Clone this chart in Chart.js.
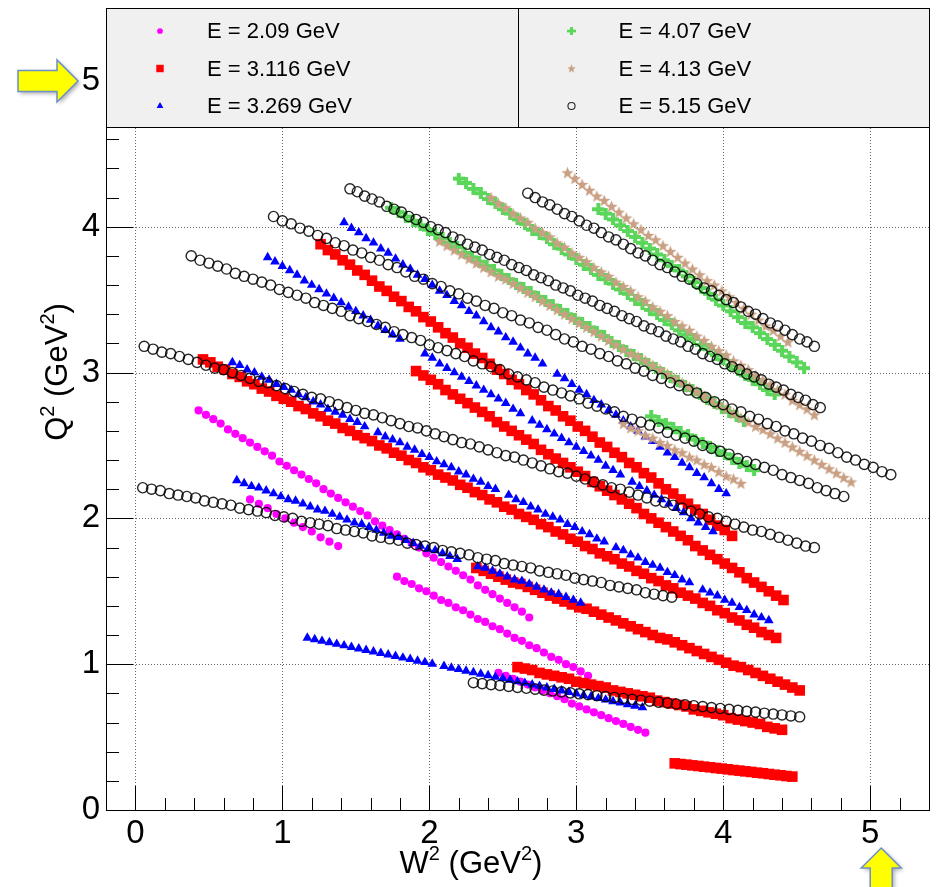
<!DOCTYPE html>
<html>
<head>
<meta charset="utf-8">
<script src="https://cdn.jsdelivr.net/npm/chart.js@4.4.0/dist/chart.umd.min.js"></script>
<style>
html, body { margin: 0; padding: 0; background: #fff; }
#wrap { position: relative; width: 938px; height: 887px; }
</style>
</head>
<body>
<div id="wrap"><canvas id="kin" width="938" height="887"></canvas></div>
<script>
// beam energies (legend labels)
const beamEnergies = ['2.09', '3.116', '3.269', '4.07', '4.13', '5.15'];
const xTickValues = [0, 1, 2, 3, 4, 5];
const yTickValues = [0, 1, 2, 3, 4, 5];

// E = 2.09 GeV : W2 / Q2, one line per setting
const e209W2 = [
  0.43,0.48,0.53,0.58,0.63,0.68,0.73,0.78,0.83,0.88,0.93,0.98,1.03,1.08,1.13,1.18,1.23,1.28,1.33,1.38,1.43,1.48,1.53,1.58,1.63,1.68,1.73,1.78,1.83,1.88,1.93,1.98,2.03,2.08,2.13,2.18,2.23,2.28,2.33,2.38,2.43,2.48,2.53,2.58,2.63,2.68,
  0.78,0.84,0.90,0.96,1.02,1.08,1.14,1.20,1.26,1.32,1.38,
  1.78,1.83,1.88,1.93,1.98,2.03,2.08,2.13,2.18,2.23,2.28,2.33,2.38,2.43,2.48,2.53,2.58,2.63,2.68,2.73,2.78,2.83,2.88,2.93,2.98,3.03,3.08,
  2.47,2.52,2.57,2.62,2.67,2.72,2.77,2.82,2.87,2.92,2.97,3.02,3.07,3.12,3.17,3.22,3.27,3.32,3.37,3.42,3.47
];
const e209Q2 = [
  2.74,2.71,2.68,2.65,2.61,2.58,2.55,2.52,2.49,2.46,2.43,2.39,2.36,2.33,2.30,2.27,2.24,2.20,2.17,2.14,2.11,2.08,2.05,2.02,1.98,1.95,1.92,1.89,1.86,1.83,1.80,1.76,1.73,1.70,1.67,1.64,1.61,1.58,1.54,1.51,1.48,1.45,1.42,1.39,1.36,1.32,
  2.13,2.10,2.07,2.03,2.00,1.97,1.94,1.91,1.87,1.84,1.81,
  1.60,1.57,1.55,1.52,1.50,1.47,1.44,1.42,1.39,1.37,1.34,1.31,1.29,1.26,1.24,1.21,1.18,1.16,1.13,1.11,1.08,1.05,1.03,1.00,0.98,0.95,0.92,
  0.94,0.92,0.90,0.88,0.86,0.84,0.82,0.80,0.78,0.76,0.73,0.71,0.69,0.67,0.65,0.63,0.61,0.59,0.57,0.55,0.53
];

// E = 3.116 GeV
const e3116W2 = [
  3.67,3.71,3.75,3.79,3.83,3.87,3.91,3.95,3.99,4.03,4.07,4.11,4.15,4.19,4.23,4.27,4.31,4.35,4.39,4.43,4.47,
  2.60,2.65,2.70,2.75,2.80,2.85,2.90,2.95,3.00,3.05,3.10,3.15,3.20,3.25,3.30,3.35,3.40,3.45,3.50,3.55,3.60,3.65,3.70,3.75,3.80,3.85,3.90,3.95,4.00,4.05,4.10,4.15,4.20,4.25,4.30,4.35,4.40,
  2.32,2.37,2.42,2.47,2.52,2.57,2.62,2.67,2.72,2.77,2.82,2.87,2.92,2.97,3.02,3.07,3.12,3.17,3.22,3.27,3.32,3.37,3.42,3.47,3.52,3.57,3.62,3.67,3.72,3.77,3.82,3.87,3.92,3.97,4.02,4.07,4.12,4.17,4.22,4.27,4.32,4.37,4.42,4.47,4.52,
  0.46,0.51,0.56,0.61,0.66,0.71,0.76,0.81,0.86,0.91,0.96,1.01,1.06,1.11,1.16,1.21,1.26,1.31,1.36,1.41,1.46,1.51,1.56,1.61,1.66,1.71,1.76,1.81,1.86,1.91,1.96,2.01,2.06,2.11,2.16,2.21,2.26,2.31,2.36,2.41,2.46,2.51,2.56,2.61,2.66,2.71,2.76,2.81,2.86,2.91,2.96,3.01,3.06,3.11,3.16,3.21,3.26,3.31,3.36,3.41,3.46,3.51,3.56,3.61,3.66,3.71,3.76,3.81,3.86,3.91,3.96,4.01,4.06,4.11,4.16,4.21,4.26,4.31,4.36,
  1.91,1.96,2.01,2.06,2.11,2.16,2.21,2.26,2.31,2.36,2.41,2.46,2.51,2.56,2.61,2.66,2.71,2.76,2.81,2.86,2.91,2.96,3.01,3.06,3.11,3.16,3.21,3.26,3.31,3.36,3.41,3.46,3.51,3.56,3.61,3.66,3.71,3.76,3.81,3.86,3.91,3.96,4.01,4.06,4.11,4.16,4.21,4.26,4.31,4.36,4.41,
  1.26,1.31,1.36,1.41,1.46,1.51,1.56,1.61,1.66,1.71,1.76,1.81,1.86,1.91,1.96,2.01,2.06,2.11,2.16,2.21,2.26,2.31,2.36,2.41,2.46,2.51,2.56,2.61,2.66,2.71,2.76,2.81,2.86,2.91,2.96,3.01,3.06,3.11,3.16,3.21,3.26,3.31,3.36,3.41,3.46,3.51,3.56,3.61,3.66,3.71,3.76,3.81,3.86,3.91,3.96,4.01,4.06
];
const e3116Q2 = [
  0.320,0.315,0.311,0.306,0.302,0.297,0.293,0.288,0.284,0.279,0.274,0.270,0.265,0.261,0.256,0.252,0.247,0.242,0.238,0.233,0.229,
  0.98,0.97,0.96,0.94,0.93,0.92,0.91,0.90,0.88,0.87,0.86,0.85,0.84,0.82,0.81,0.80,0.79,0.78,0.77,0.75,0.74,0.73,0.72,0.71,0.69,0.68,0.67,0.66,0.65,0.63,0.62,0.61,0.60,0.59,0.57,0.56,0.55,
  1.66,1.64,1.62,1.60,1.58,1.56,1.55,1.53,1.51,1.49,1.47,1.45,1.43,1.41,1.39,1.38,1.36,1.34,1.32,1.30,1.28,1.26,1.24,1.22,1.20,1.18,1.17,1.15,1.13,1.11,1.09,1.07,1.05,1.03,1.01,0.99,0.98,0.96,0.94,0.92,0.90,0.88,0.86,0.84,0.82,
  3.09,3.07,3.04,3.02,2.99,2.97,2.94,2.92,2.89,2.87,2.84,2.82,2.80,2.77,2.75,2.72,2.70,2.67,2.65,2.62,2.60,2.57,2.55,2.53,2.50,2.48,2.45,2.43,2.40,2.38,2.35,2.33,2.30,2.28,2.26,2.23,2.21,2.18,2.16,2.13,2.11,2.08,2.06,2.03,2.01,1.99,1.96,1.94,1.91,1.89,1.86,1.84,1.81,1.79,1.76,1.74,1.72,1.69,1.67,1.64,1.62,1.59,1.57,1.54,1.52,1.49,1.47,1.45,1.42,1.40,1.37,1.35,1.32,1.30,1.27,1.25,1.22,1.20,1.18,
  3.01,2.98,2.95,2.92,2.88,2.85,2.82,2.79,2.76,2.73,2.70,2.66,2.63,2.60,2.57,2.54,2.51,2.47,2.44,2.41,2.38,2.35,2.32,2.29,2.25,2.22,2.19,2.16,2.13,2.10,2.07,2.03,2.00,1.97,1.94,1.91,1.88,1.85,1.81,1.78,1.75,1.72,1.69,1.66,1.63,1.59,1.56,1.53,1.50,1.47,1.44,
  3.88,3.84,3.81,3.77,3.74,3.70,3.67,3.63,3.59,3.56,3.52,3.49,3.45,3.42,3.38,3.35,3.31,3.27,3.24,3.20,3.17,3.13,3.10,3.06,3.02,2.99,2.95,2.92,2.88,2.85,2.81,2.77,2.74,2.70,2.67,2.63,2.60,2.56,2.52,2.49,2.45,2.42,2.38,2.35,2.31,2.28,2.24,2.20,2.17,2.13,2.10,2.06,2.03,1.99,1.95,1.92,1.88
];

// E = 3.269 GeV (gaps between spectrometer settings)
const e3269W2 = [
  0.90,0.95,1.00,1.05,1.10,1.15,1.20,1.25,1.30,1.35,1.40,1.45,1.50,1.55,1.60,1.65,1.70,1.75,1.80,
  1.97,2.02,2.07,2.12,2.17,2.22,2.27,2.32,2.37,2.42,2.47,2.52,2.57,2.62,
  2.70,2.75,2.80,2.85,2.90,2.95,3.00,3.05,3.10,3.15,3.20,3.25,3.30,
  3.38,3.43,3.48,3.53,3.58,3.63,3.68,3.73,3.78,3.83,3.88,3.93,
  1.42,1.47,1.52,1.57,1.62,1.67,1.72,1.77,1.82,1.87,1.92,1.97,2.02,2.07,2.12,2.17,2.22,2.27,2.32,2.37,2.42,2.47,2.52,2.57,2.62,2.67,2.72,2.77,
  2.87,2.92,2.97,3.02,3.07,3.12,3.17,3.22,3.27,3.32,3.37,3.42,3.47,3.52,3.57,3.62,3.67,3.72,3.77,3.82,3.87,3.92,3.97,4.02,
  0.66,0.71,0.76,0.81,0.86,0.91,0.96,1.01,1.06,1.11,1.16,1.21,1.26,1.31,1.36,1.41,1.46,1.51,1.56,
  1.65,1.70,1.75,1.80,1.85,1.90,1.95,2.00,2.05,2.10,2.15,2.20,2.25,2.30,2.35,2.40,2.45,
  2.54,2.59,2.64,2.69,2.74,2.79,2.84,2.89,2.94,2.99,3.04,3.09,3.14,3.19,
  3.27,3.32,3.37,3.42,3.47,3.52,3.57,3.62,3.67,3.72,3.77,
  3.86,3.91,3.96,4.01,4.06,4.11,4.16,4.21,4.26,4.31,
  0.69,0.74,0.79,0.84,0.89,0.94,0.99,1.04,1.09,1.14,1.19,1.24,1.29,1.34,1.39,1.44,1.49,1.54,1.59,1.64,1.69,1.74,1.79,1.84,1.89,1.94,1.99,2.04,2.09,2.14,2.19,
  2.33,2.38,2.43,2.48,2.53,2.58,2.63,2.68,2.73,2.78,2.83,2.88,2.93,2.98,3.03,
  1.17,1.22,1.27,1.32,1.37,1.42,1.47,1.52,1.57,1.62,1.67,1.72,1.77,1.82,1.87,1.92,1.97,2.02,
  2.10,2.15,2.20,2.25,2.30,2.35,2.40,2.45,2.50,2.55,2.60,2.65,2.70,2.75,2.80,2.85,2.90,2.95,3.00,3.05,3.10,3.15,3.20,3.25,3.30,3.35,3.40,3.45
];
const e3269Q2 = [
  3.79,3.76,3.73,3.70,3.67,3.63,3.60,3.57,3.54,3.51,3.48,3.45,3.42,3.39,3.36,3.32,3.29,3.26,3.23,
  3.13,3.10,3.06,3.03,3.00,2.97,2.94,2.91,2.88,2.85,2.82,2.79,2.75,2.72,
  2.67,2.64,2.61,2.58,2.55,2.52,2.49,2.46,2.43,2.40,2.36,2.33,2.30,
  2.25,2.22,2.19,2.16,2.13,2.10,2.07,2.04,2.00,1.97,1.94,1.91,
  4.03,3.99,3.96,3.92,3.89,3.85,3.82,3.78,3.74,3.71,3.67,3.64,3.60,3.56,3.53,3.49,3.46,3.42,3.39,3.35,3.31,3.28,3.24,3.21,3.17,3.13,3.10,3.06,
  2.99,2.96,2.92,2.88,2.85,2.81,2.78,2.74,2.71,2.67,2.63,2.60,2.56,2.53,2.49,2.45,2.42,2.38,2.35,2.31,2.28,2.24,2.20,2.17,
  3.07,3.05,3.02,3.00,2.97,2.95,2.92,2.90,2.88,2.85,2.83,2.80,2.78,2.75,2.73,2.71,2.68,2.66,2.63,
  2.59,2.56,2.54,2.52,2.49,2.47,2.44,2.42,2.39,2.37,2.35,2.32,2.30,2.27,2.25,2.22,2.20,
  2.16,2.13,2.11,2.08,2.06,2.03,2.01,1.99,1.96,1.94,1.91,1.89,1.86,1.84,
  1.80,1.78,1.75,1.73,1.70,1.68,1.66,1.63,1.61,1.58,1.56,
  1.51,1.49,1.47,1.44,1.42,1.39,1.37,1.34,1.32,1.30,
  2.26,2.24,2.22,2.21,2.19,2.17,2.15,2.13,2.12,2.10,2.08,2.06,2.05,2.03,2.01,1.99,1.97,1.96,1.94,1.92,1.90,1.88,1.87,1.85,1.83,1.81,1.79,1.78,1.76,1.74,1.72,
  1.67,1.66,1.64,1.62,1.60,1.58,1.57,1.55,1.53,1.51,1.49,1.48,1.46,1.44,1.42,
  1.180,1.170,1.159,1.149,1.138,1.128,1.117,1.107,1.096,1.086,1.076,1.065,1.055,1.044,1.034,1.023,1.013,1.002,
  0.986,0.975,0.965,0.954,0.944,0.933,0.923,0.912,0.902,0.892,0.881,0.871,0.860,0.850,0.839,0.829,0.818,0.808,0.798,0.787,0.777,0.766,0.756,0.745,0.735,0.724,0.714,0.703
];

// E = 4.07 GeV
const e407W2 = [
  3.15,3.20,3.25,3.30,3.35,3.40,3.45,3.50,3.55,3.60,3.65,3.70,3.75,3.80,3.85,3.90,3.95,4.00,4.05,4.10,4.15,4.20,4.25,4.30,4.35,4.40,4.45,4.50,4.55,
  2.20,2.25,2.30,2.35,2.40,2.45,2.50,2.55,2.60,2.65,2.70,2.75,2.80,2.85,2.90,2.95,3.00,3.05,3.10,3.15,3.20,3.25,3.30,3.35,3.40,3.45,3.50,3.55,3.60,3.65,3.70,3.75,3.80,3.85,3.90,3.95,4.00,4.05,4.10,4.15,4.20,4.25,4.30,4.35,
  1.74,1.79,1.84,1.89,1.94,1.99,2.04,2.09,2.14,2.19,2.24,2.29,2.34,2.39,2.44,2.49,2.54,2.59,2.64,2.69,2.74,2.79,2.84,2.89,2.94,2.99,3.04,3.09,3.14,3.19,3.24,3.29,3.34,3.39,3.44,3.49,3.54,3.59,3.64,3.69,3.74,3.79,3.84,3.89,3.94,3.99,4.04,4.09,4.14,
  3.51,3.56,3.61,3.66,3.71,3.76,3.81,3.86,3.91,3.96,4.01,4.06,4.11,4.16,4.21
];
const e407Q2 = [
  4.12,4.09,4.05,4.01,3.97,3.93,3.89,3.85,3.81,3.77,3.73,3.70,3.66,3.62,3.58,3.54,3.50,3.46,3.42,3.38,3.34,3.31,3.27,3.23,3.19,3.15,3.11,3.07,3.03,
  4.33,4.30,4.26,4.23,4.19,4.16,4.12,4.09,4.05,4.02,3.98,3.95,3.92,3.88,3.85,3.81,3.78,3.74,3.71,3.67,3.64,3.61,3.57,3.54,3.50,3.47,3.43,3.40,3.36,3.33,3.29,3.26,3.23,3.19,3.16,3.12,3.09,3.05,3.02,2.98,2.95,2.92,2.88,2.85,
  4.13,4.10,4.07,4.04,4.01,3.98,3.95,3.92,3.89,3.86,3.82,3.79,3.76,3.73,3.70,3.67,3.64,3.61,3.58,3.55,3.52,3.49,3.46,3.43,3.40,3.37,3.34,3.31,3.28,3.25,3.21,3.18,3.15,3.12,3.09,3.06,3.03,3.00,2.97,2.94,2.91,2.88,2.85,2.82,2.79,2.76,2.73,2.70,2.67,
  2.70,2.67,2.65,2.62,2.59,2.57,2.54,2.52,2.49,2.46,2.44,2.41,2.38,2.36,2.33
];

// E = 4.13 GeV
const e413W2 = [
  2.94,2.99,3.04,3.09,3.14,3.19,3.24,3.29,3.34,3.39,3.44,3.49,3.54,3.59,3.64,3.69,3.74,3.79,3.84,3.89,3.94,3.99,4.04,4.09,4.14,4.19,4.24,4.29,4.34,4.39,4.44,
  2.42,2.47,2.52,2.57,2.62,2.67,2.72,2.77,2.82,2.87,2.92,2.97,3.02,3.07,3.12,3.17,3.22,3.27,3.32,3.37,3.42,3.47,3.52,3.57,3.62,3.67,3.72,3.77,3.82,3.87,3.92,3.97,4.02,4.07,4.12,4.17,4.22,4.27,4.32,4.37,4.42,4.47,4.52,4.57,4.62,
  2.07,2.12,2.17,2.22,2.27,2.32,2.37,2.42,2.47,2.52,2.57,2.62,2.67,2.72,2.77,2.82,2.87,2.92,2.97,3.02,3.07,3.12,3.17,3.22,3.27,3.32,3.37,3.42,3.47,3.52,3.57,3.62,3.67,3.72,3.77,3.82,3.87,3.92,3.97,4.02,4.07,4.12,4.17,4.22,4.27,4.32,4.37,4.42,4.47,4.52,4.57,4.62,4.67,4.72,4.77,4.82,4.87,
  3.32,3.37,3.42,3.47,3.52,3.57,3.62,3.67,3.72,3.77,3.82,3.87,3.92,3.97,4.02,4.07,4.12
];
const e413Q2 = [
  4.37,4.33,4.29,4.25,4.21,4.18,4.14,4.10,4.06,4.02,3.98,3.94,3.91,3.87,3.83,3.79,3.75,3.71,3.67,3.63,3.60,3.56,3.52,3.48,3.44,3.40,3.36,3.32,3.29,3.25,3.21,
  4.20,4.16,4.13,4.09,4.06,4.03,3.99,3.96,3.93,3.89,3.86,3.82,3.79,3.76,3.72,3.69,3.66,3.62,3.59,3.56,3.52,3.49,3.45,3.42,3.39,3.35,3.32,3.29,3.25,3.22,3.18,3.15,3.12,3.08,3.05,3.02,2.98,2.95,2.92,2.88,2.85,2.81,2.78,2.75,2.71,
  3.90,3.87,3.84,3.81,3.78,3.75,3.72,3.69,3.66,3.64,3.61,3.58,3.55,3.52,3.49,3.46,3.43,3.40,3.37,3.34,3.31,3.28,3.25,3.22,3.19,3.16,3.13,3.11,3.08,3.05,3.02,2.99,2.96,2.93,2.90,2.87,2.84,2.81,2.78,2.75,2.72,2.69,2.66,2.63,2.61,2.58,2.55,2.52,2.49,2.46,2.43,2.40,2.37,2.34,2.31,2.28,2.25,
  2.65,2.62,2.60,2.57,2.55,2.52,2.50,2.47,2.45,2.42,2.40,2.37,2.35,2.32,2.29,2.27,2.24
];

// E = 5.15 GeV
const e515W2 = [
  0.05,0.11,0.17,0.23,0.29,0.35,0.41,0.47,0.53,0.59,0.65,0.71,0.77,0.83,0.89,0.95,1.01,1.07,1.13,1.19,1.25,1.31,1.37,1.43,1.49,1.55,1.61,1.67,1.73,1.79,1.85,1.91,1.97,2.03,2.09,2.15,2.21,2.27,2.33,2.39,2.45,2.51,2.57,2.63,2.69,2.75,2.81,2.87,2.93,2.99,3.05,3.11,3.17,3.23,3.29,3.35,3.41,3.47,3.53,3.59,3.65,
  0.06,0.12,0.18,0.24,0.30,0.36,0.42,0.48,0.54,0.60,0.66,0.72,0.78,0.84,0.90,0.96,1.02,1.08,1.14,1.20,1.26,1.32,1.38,1.44,1.50,1.56,1.62,1.68,1.74,1.80,1.86,1.92,1.98,2.04,2.10,2.16,2.22,2.28,2.34,2.40,2.46,2.52,2.58,2.64,2.70,2.76,2.82,2.88,2.94,3.00,3.06,3.12,3.18,3.24,3.30,3.36,3.42,3.48,3.54,3.60,3.66,3.72,3.78,3.84,3.90,3.96,4.02,4.08,4.14,4.20,4.26,4.32,4.38,4.44,4.50,4.56,4.62,
  0.38,0.44,0.50,0.56,0.62,0.68,0.74,0.80,0.86,0.92,0.98,1.04,1.10,1.16,1.22,1.28,1.34,1.40,1.46,1.52,1.58,1.64,1.70,1.76,1.82,1.88,1.94,2.00,2.06,2.12,2.18,2.24,2.30,2.36,2.42,2.48,2.54,2.60,2.66,2.72,2.78,2.84,2.90,2.96,3.02,3.08,3.14,3.20,3.26,3.32,3.38,3.44,3.50,3.56,3.62,3.68,3.74,3.80,3.86,3.92,3.98,4.04,4.10,4.16,4.22,4.28,4.34,4.40,4.46,4.52,4.58,4.64,4.70,4.76,4.82,
  0.94,1.00,1.06,1.12,1.18,1.24,1.30,1.36,1.42,1.48,1.54,1.60,1.66,1.72,1.78,1.84,1.90,1.96,2.02,2.08,2.14,2.20,2.26,2.32,2.38,2.44,2.50,2.56,2.62,2.68,2.74,2.80,2.86,2.92,2.98,3.04,3.10,3.16,3.22,3.28,3.34,3.40,3.46,3.52,3.58,3.64,3.70,3.76,3.82,3.88,3.94,4.00,4.06,4.12,4.18,4.24,4.30,4.36,4.42,4.48,4.54,4.60,4.66,4.72,4.78,4.84,4.90,4.96,5.02,5.08,5.14,
  1.46,1.51,1.56,1.61,1.66,1.71,1.76,1.81,1.86,1.91,1.96,2.01,2.06,2.11,2.16,2.21,2.26,2.31,2.36,2.41,2.46,2.51,2.56,2.61,2.66,2.71,2.76,2.81,2.86,2.91,2.96,3.01,3.06,3.11,3.16,3.21,3.26,3.31,3.36,3.41,3.46,3.51,3.56,3.61,3.66,3.71,3.76,3.81,3.86,3.91,3.96,4.01,4.06,4.11,4.16,4.21,4.26,4.31,4.36,4.41,4.46,4.51,4.56,4.61,4.66,
  2.67,2.72,2.77,2.82,2.87,2.92,2.97,3.02,3.07,3.12,3.17,3.22,3.27,3.32,3.37,3.42,3.47,3.52,3.57,3.62,3.67,3.72,3.77,3.82,3.87,3.92,3.97,4.02,4.07,4.12,4.17,4.22,4.27,4.32,4.37,4.42,4.47,4.52,4.57,4.62,
  2.30,2.36,2.42,2.48,2.54,2.60,2.66,2.72,2.78,2.84,2.90,2.96,3.02,3.08,3.14,3.20,3.26,3.32,3.38,3.44,3.50,3.56,3.62,3.68,3.74,3.80,3.86,3.92,3.98,4.04,4.10,4.16,4.22,4.28,4.34,4.40,4.46,4.52
];
const e515Q2 = [
  2.21,2.20,2.19,2.17,2.16,2.15,2.14,2.12,2.11,2.10,2.09,2.07,2.06,2.05,2.04,2.02,2.01,2.00,1.98,1.97,1.96,1.95,1.93,1.92,1.91,1.90,1.88,1.87,1.86,1.85,1.83,1.82,1.81,1.80,1.78,1.77,1.76,1.75,1.73,1.72,1.71,1.69,1.68,1.67,1.66,1.64,1.63,1.62,1.61,1.59,1.58,1.57,1.56,1.54,1.53,1.52,1.51,1.49,1.48,1.47,1.46,
  3.18,3.16,3.14,3.13,3.11,3.09,3.07,3.05,3.03,3.02,3.00,2.98,2.96,2.94,2.93,2.91,2.89,2.87,2.85,2.83,2.82,2.80,2.78,2.76,2.74,2.72,2.71,2.69,2.67,2.65,2.63,2.62,2.60,2.58,2.56,2.54,2.52,2.51,2.49,2.47,2.45,2.43,2.42,2.40,2.38,2.36,2.34,2.32,2.31,2.29,2.27,2.25,2.23,2.21,2.20,2.18,2.16,2.14,2.12,2.11,2.09,2.07,2.05,2.03,2.01,2.00,1.98,1.96,1.94,1.92,1.91,1.89,1.87,1.85,1.83,1.81,1.80,
  3.80,3.77,3.75,3.73,3.71,3.68,3.66,3.64,3.62,3.60,3.57,3.55,3.53,3.51,3.48,3.46,3.44,3.42,3.39,3.37,3.35,3.33,3.31,3.28,3.26,3.24,3.22,3.19,3.17,3.15,3.13,3.11,3.08,3.06,3.04,3.02,2.99,2.97,2.95,2.93,2.90,2.88,2.86,2.84,2.82,2.79,2.77,2.75,2.73,2.70,2.68,2.66,2.64,2.62,2.59,2.57,2.55,2.53,2.50,2.48,2.46,2.44,2.41,2.39,2.37,2.35,2.33,2.30,2.28,2.26,2.24,2.21,2.19,2.17,2.15,
  4.07,4.04,4.02,3.99,3.97,3.94,3.92,3.89,3.87,3.84,3.82,3.79,3.77,3.74,3.72,3.69,3.66,3.64,3.61,3.59,3.56,3.54,3.51,3.49,3.46,3.44,3.41,3.39,3.36,3.34,3.31,3.29,3.26,3.23,3.21,3.18,3.16,3.13,3.11,3.08,3.06,3.03,3.01,2.98,2.96,2.93,2.91,2.88,2.86,2.83,2.80,2.78,2.75,2.73,2.70,2.68,2.65,2.63,2.60,2.58,2.55,2.53,2.50,2.48,2.45,2.42,2.40,2.37,2.35,2.32,2.30,
  4.26,4.24,4.21,4.19,4.17,4.14,4.12,4.10,4.07,4.05,4.03,4.00,3.98,3.96,3.93,3.91,3.88,3.86,3.84,3.81,3.79,3.77,3.74,3.72,3.70,3.67,3.65,3.63,3.60,3.58,3.56,3.53,3.51,3.49,3.46,3.44,3.42,3.39,3.37,3.35,3.32,3.30,3.28,3.25,3.23,3.21,3.18,3.16,3.13,3.11,3.09,3.06,3.04,3.02,2.99,2.97,2.95,2.92,2.90,2.88,2.85,2.83,2.81,2.78,2.76,
  4.23,4.20,4.17,4.15,4.12,4.09,4.07,4.04,4.01,3.99,3.96,3.93,3.91,3.88,3.85,3.82,3.80,3.77,3.74,3.72,3.69,3.66,3.64,3.61,3.58,3.56,3.53,3.50,3.48,3.45,3.42,3.40,3.37,3.34,3.32,3.29,3.26,3.23,3.21,3.18,
  0.873,0.867,0.860,0.854,0.848,0.841,0.835,0.829,0.822,0.816,0.810,0.803,0.797,0.791,0.784,0.778,0.772,0.765,0.759,0.753,0.746,0.740,0.734,0.727,0.721,0.715,0.709,0.702,0.696,0.690,0.683,0.677,0.671,0.664,0.658,0.652,0.645,0.639
];

const FONT = '"Liberation Sans", Arial, Helvetica, sans-serif';

// ROOT-like markers that Chart.js does not have
function plusMarker(color) {
    const c = document.createElement('canvas');
    c.width = 12; c.height = 12;
    const g = c.getContext('2d');
    g.fillStyle = color;
    g.fillRect(0, 4, 12, 4);
    g.fillRect(4, 0, 4, 12);
    return c;
}

function starMarker(color) {
    const c = document.createElement('canvas');
    c.width = 13; c.height = 13;
    const g = c.getContext('2d');
    g.fillStyle = color;
    g.beginPath();
    for (let k = 0; k < 10; k++) {
        const r = k % 2 ? 2.7 : 6.4;
        const a = -Math.PI / 2 + k * Math.PI / 5;
        const px = 6.5 + r * Math.cos(a), py = 7 + r * Math.sin(a);
        if (k === 0) g.moveTo(px, py); else g.lineTo(px, py);
    }
    g.closePath();
    g.fill();
    return c;
}

function toPoints(xs, ys) {
    return xs.map((x, i) => ({ x: x, y: ys[i] }));
}

function makeSet(i, xs, ys, style) {
    return Object.assign({
        label: 'E = ' + beamEnergies[i] + ' GeV',
        data: toPoints(xs, ys),
        showLine: false,
        order: 6 - i,
        pointBorderWidth: 0,
        pointHoverRadius: style.pointRadius
    }, style);
}

const datasets = [
    makeSet(0, e209W2, e209Q2, { pointStyle: 'circle', pointRadius: 4.1, pointBackgroundColor: '#ff00ff', pointBorderColor: '#ff00ff' }),
    makeSet(1, e3116W2, e3116Q2, { pointStyle: 'rect', pointRadius: 7.5, pointBackgroundColor: '#ff0000', pointBorderColor: '#ff0000' }),
    makeSet(2, e3269W2, e3269Q2, { pointStyle: 'triangle', pointRadius: 5.6, pointBackgroundColor: '#0000ff', pointBorderColor: '#0000ff' }),
    makeSet(3, e407W2, e407Q2, { pointStyle: plusMarker('#5ad65a'), pointRadius: 6 }),
    makeSet(4, e413W2, e413Q2, { pointStyle: starMarker('#c9a083'), pointRadius: 6 }),
    makeSet(5, e515W2, e515Q2, { pointStyle: 'circle', pointRadius: 5.1, pointBackgroundColor: 'rgba(0,0,0,0)', pointBorderColor: 'rgba(0,0,0,0.85)', pointBorderWidth: 1.4 })
];

// legend marker, same shapes as the plot
function drawMarker(ctx, ds, px, py, scale) {
    const st = ds.pointStyle;
    const r = ds.pointRadius * scale;
    ctx.save();
    ctx.translate(px, py);
    if (typeof st !== 'string') {
        ctx.scale(scale, scale);
        ctx.drawImage(st, -st.width / 2, -st.height / 2);
    } else {
        ctx.beginPath();
        if (st === 'circle') {
            ctx.arc(0, 0, r, 0, Math.PI * 2);
        } else if (st === 'rect') {
            const h = r * Math.SQRT1_2;
            ctx.rect(-h, -h, 2 * h, 2 * h);
        } else if (st === 'triangle') {
            ctx.moveTo(0, -r);
            ctx.lineTo(r * 0.866, r * 0.5);
            ctx.lineTo(-r * 0.866, r * 0.5);
            ctx.closePath();
        }
        if (ds.pointBorderWidth) {
            ctx.lineWidth = 1.1;
            ctx.strokeStyle = ds.pointBorderColor;
            ctx.stroke();
        } else {
            ctx.fillStyle = ds.pointBackgroundColor;
            ctx.fill();
        }
    }
    ctx.restore();
}

// text with ROOT style superscripts: parts = [[text, isSup], ...]
function richText(ctx, parts, size, cx, baseY) {
    const widths = parts.map(p => {
        ctx.font = (p[1] ? Math.round(size * 0.64) : size) + 'px ' + FONT;
        return ctx.measureText(p[0]).width;
    });
    let x = cx - widths.reduce((a, b) => a + b, 0) / 2;
    ctx.textAlign = 'left';
    ctx.textBaseline = 'alphabetic';
    parts.forEach((p, k) => {
        ctx.font = (p[1] ? Math.round(size * 0.64) : size) + 'px ' + FONT;
        ctx.fillText(p[0], x, p[1] ? baseY - size * 0.42 : baseY);
        x += widths[k];
    });
}

function blockArrow(ctx, pts) {
    ctx.save();
    ctx.shadowColor = 'rgba(0,0,0,0.35)';
    ctx.shadowBlur = 4;
    ctx.shadowOffsetX = 2;
    ctx.shadowOffsetY = 2;
    ctx.beginPath();
    pts.forEach((p, k) => { if (k === 0) ctx.moveTo(p[0], p[1]); else ctx.lineTo(p[0], p[1]); });
    ctx.closePath();
    ctx.fillStyle = '#ffff00';
    ctx.fill();
    ctx.shadowColor = 'rgba(0,0,0,0)';
    ctx.lineWidth = 1.5;
    ctx.strokeStyle = '#6d8fc8';
    ctx.stroke();
    ctx.restore();
}

const rootStyle = {
    id: 'rootStyle',
    beforeDatasetsDraw(chart) {
        const { ctx, chartArea: a, scales: { x, y } } = chart;
        ctx.save();
        ctx.strokeStyle = '#666';
        ctx.lineWidth = 1;
        ctx.setLineDash([1, 2]);
        ctx.beginPath();
        xTickValues.forEach(v => {
            const px = Math.round(x.getPixelForValue(v)) + 0.5;
            ctx.moveTo(px, a.top); ctx.lineTo(px, a.bottom);
        });
        yTickValues.forEach(v => {
            const py = Math.round(y.getPixelForValue(v)) + 0.5;
            ctx.moveTo(a.left, py); ctx.lineTo(a.right, py);
        });
        ctx.stroke();
        ctx.restore();
    },
    afterDatasetsDraw(chart) {
        const { ctx, chartArea: a, scales: { x, y } } = chart;
        ctx.save();
        ctx.setLineDash([]);
        ctx.strokeStyle = '#000';
        ctx.lineWidth = 1;

        // tick marks inside the frame, minor every 0.2
        ctx.beginPath();
        for (let k = -1; k <= 27; k++) {
            const px = Math.round(x.getPixelForValue(k / 5)) + 0.5;
            if (px < a.left || px > a.right) continue;
            const len = k % 5 === 0 ? 24 : 12;
            ctx.moveTo(px, a.bottom); ctx.lineTo(px, a.bottom - len);
        }
        for (let k = 0; k <= 27; k++) {
            const py = Math.round(y.getPixelForValue(k / 5)) + 0.5;
            if (py < a.top) continue;
            const len = k % 5 === 0 ? 27 : 13;
            ctx.moveTo(a.left, py); ctx.lineTo(a.left + len, py);
        }
        ctx.stroke();

        // frame
        ctx.strokeRect(Math.round(a.left) + 0.5, Math.round(a.top) + 0.5,
            Math.round(a.right - a.left), Math.round(a.bottom - a.top));

        // legend box (drawn over the top of the frame, ROOT style)
        const bx = Math.round(a.left), by = Math.round(a.top), bw = Math.round(a.right - a.left), bh = 119;
        ctx.fillStyle = '#f0f0f0';
        ctx.fillRect(bx, by, bw, bh);
        ctx.strokeRect(bx + 0.5, by + 0.5, bw, bh);
        const mid = Math.round(bx + bw / 2) + 0.5;
        ctx.beginPath();
        ctx.moveTo(mid, by); ctx.lineTo(mid, by + bh);
        ctx.stroke();
        chart.data.datasets.forEach((ds, i) => {
            const col = Math.floor(i / 3), row = i % 3;
            const cx = bx + col * bw / 2;
            const ry = by + 23 + row * 37.5;
            drawMarker(ctx, ds, cx + 54, ry, 0.7);
            ctx.fillStyle = '#000';
            ctx.font = '22px ' + FONT;
            ctx.textAlign = 'left';
            ctx.textBaseline = 'middle';
            ctx.fillText(ds.label, cx + 101, ry + 1);
        });

        // axis titles
        ctx.fillStyle = '#000';
        richText(ctx, [['W', false], ['2', true], [' (GeV', false], ['2', true], [')', false]], 31, 471, 873);
        ctx.save();
        ctx.translate(67, 372);
        ctx.rotate(-Math.PI / 2);
        richText(ctx, [['Q', false], ['2', true], [' (GeV', false], ['2', true], [')', false]], 31, 0, 0);
        ctx.restore();

        // yellow call-out arrows pointing at the "5" labels
        const ty = y.getPixelForValue(5);
        blockArrow(ctx, [[18, ty - 10.5], [57, ty - 10.5], [57, ty - 21], [78, ty], [57, ty + 21], [57, ty + 10.5], [18, ty + 10.5]]);
        const tx = x.getPixelForValue(5) + 11;
        blockArrow(ctx, [[tx, 848], [tx + 20, 868], [tx + 11, 868], [tx + 11, 896], [tx - 11, 896], [tx - 11, 868], [tx - 20, 868]]);
        ctx.restore();
    }
};

const tickFont = { family: FONT, size: 33 };

new Chart(document.getElementById('kin'), {
    type: 'scatter',
    data: { datasets: datasets },
    options: {
        responsive: false,
        animation: false,
        devicePixelRatio: 1,
        layout: { padding: { left: 0, top: 8, right: 9, bottom: 0 } },
        plugins: { legend: { display: false }, tooltip: { enabled: false } },
        scales: {
            x: {
                type: 'linear',
                min: -0.2,
                max: 5.4,
                afterFit: s => { s.height = 77; s.paddingLeft = 0; s.paddingRight = 0; },
                afterBuildTicks: s => { s.ticks = xTickValues.map(v => ({ value: v })); },
                grid: { display: false, drawTicks: false },
                border: { display: false },
                ticks: { padding: 4, color: '#000', font: tickFont, autoSkip: false, maxRotation: 0 }
            },
            y: {
                type: 'linear',
                min: 0,
                max: 5.5,
                afterFit: s => { s.width = 106; s.paddingTop = 0; s.paddingBottom = 0; },
                afterBuildTicks: s => { s.ticks = yTickValues.map(v => ({ value: v })); },
                grid: { display: false, drawTicks: false },
                border: { display: false },
                ticks: { padding: 6, color: '#000', font: tickFont, autoSkip: false }
            }
        }
    },
    plugins: [rootStyle]
});
</script>
</body>
</html>
